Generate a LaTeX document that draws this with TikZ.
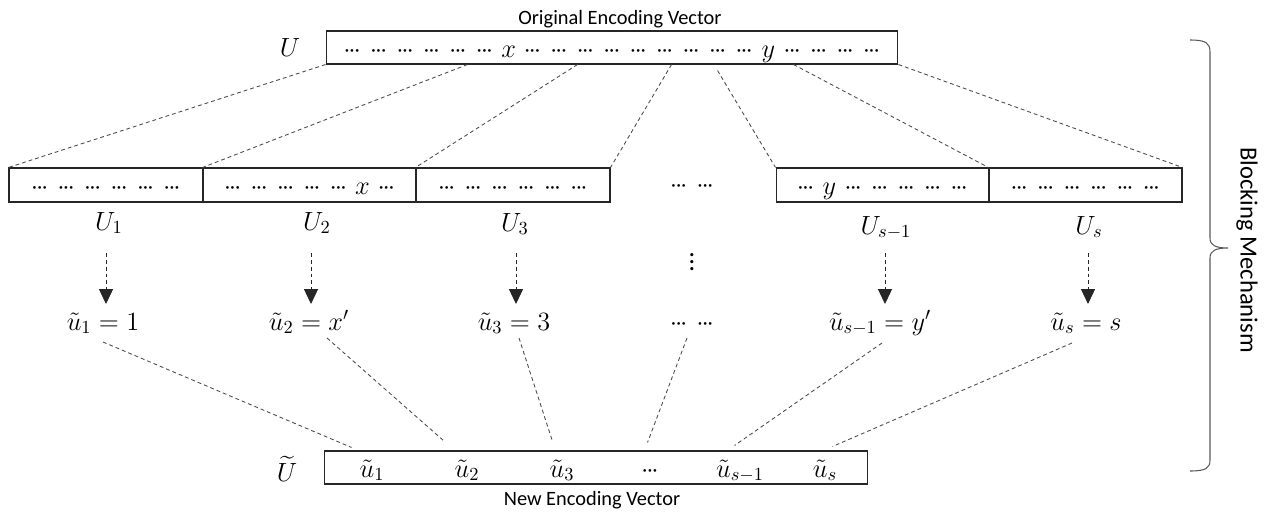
\RequirePackage{fix-cm}
\documentclass[tikz,border=0pt]{standalone}
\usepackage{amsmath}
\usepackage{fontspec}
\setmainfont{Carlito}
\usetikzlibrary{arrows.meta,calc}
\newcommand\tdots{{\cdotp}\mkern-1.5mu{\cdotp}\mkern-1.5mu{\cdotp}}
\newcommand\dg{\makebox[15.1pt]{$\tdots$}}
\newcommand\dx[1]{\makebox[12pt]{$#1$}}
\newcommand\mathfs{\fontsize{15}{18}\selectfont}
\begin{document}
\begin{tikzpicture}[x=0.02cm,y=-0.02cm,
  box/.style={draw=black!85, line width=0.6pt, inner sep=0pt, font=\mathfs},
  dl/.style={draw=black!70, dash pattern=on 2.2pt off 1.7pt, line width=0.5pt},
  arr/.style={draw=black!85, dash pattern=on 2.2pt off 1.7pt, line width=0.5pt,
    -{Triangle[width=8pt,length=8.5pt]}},
  lab/.style={inner sep=0pt, font=\mathfs},
  txt/.style={inner sep=0pt, font=\fontsize{11.6}{14}\selectfont},
  brc/.style={draw=black!65, line width=0.6pt}]
\useasboundingbox (0,0) rectangle (1272,514);

% top box
\node[box, minimum width=11.44cm, text height=0.52cm, text depth=0.14cm] (top) at (612,47.5)
  {\dg\dg\dg\dg\dg\dg\dx{x}\dg\dg\dg\dg\dg\dg\dg\dg\dg\dx{y}\dg\dg\dg\dg};
\node[txt] (orig) at (620,19) {Original Encoding Vector};
\node[lab] (Ulab) at (290,47) {$U$};

% middle boxes
\node[box, minimum width=3.88cm, text height=0.52cm, text depth=0.16cm] (b1) at (106,185)
  {\dg\dg\dg\dg\dg\dg};
\node[box, minimum width=4.26cm, text height=0.52cm, text depth=0.16cm] (b2) at (309.5,185)
  {\dg\dg\dg\dg\dg\dx{x}\dg};
\node[box, minimum width=3.88cm, text height=0.52cm, text depth=0.16cm] (b3) at (513,185)
  {\dg\dg\dg\dg\dg\dg};
\node[box, minimum width=4.26cm, text height=0.52cm, text depth=0.16cm] (b4) at (882.5,185)
  {\dg\dx{y}\dg\dg\dg\dg\dg};
\node[box, minimum width=3.86cm, text height=0.52cm, text depth=0.16cm] (b5) at (1085.5,185)
  {\dg\dg\dg\dg\dg\dg};
\node[lab] (md) at (692,187) {\dg\dg};

% block labels
\node[lab, anchor=base] (U1) at (109,230) {$U_1$};
\node[lab, anchor=base] (U2) at (317,230) {$U_2$};
\node[lab, anchor=base] (U3) at (515,231) {$U_3$};
\node[lab, anchor=base] (U4) at (886,234) {$U_{s-1}$};
\node[lab, anchor=base] (U5) at (1089,234) {$U_s$};
\node[lab] (vd) at (692,257) {$\vdots$};

% new values
\node[lab, anchor=base] (e1) at (103,330) {$\tilde{u}_1 = 1$};
\node[lab, anchor=base] (e2) at (309,330) {$\tilde{u}_2 = x'$};
\node[lab, anchor=base] (e3) at (514,330) {$\tilde{u}_3 = 3$};
\node[lab, anchor=base] (e4) at (692,330) {\dg\dg};
\node[lab, anchor=base] (e5) at (880,330) {$\tilde{u}_{s-1} = y'$};
\node[lab, anchor=base] (e6) at (1086,330) {$\tilde{u}_s = s$};

% bottom box
\node[box, minimum width=10.88cm, minimum height=0.66cm] (bot) at (596,467.5) {};
\node[lab] (Ut) at (287,469) {$\widetilde{U}$};
\node[lab, anchor=base] (bu1) at (372,477) {$\tilde{u}_1$};
\node[lab, anchor=base] (bu2) at (467,477) {$\tilde{u}_2$};
\node[lab, anchor=base] (bu3) at (562,477) {$\tilde{u}_3$};
\node[lab, anchor=base] (bu4) at (650,477) {$\tdots$};
\node[lab, anchor=base] (bu5) at (740,477) {$\tilde{u}_{s-1}$};
\node[lab, anchor=base] (bu6) at (825,477) {$\tilde{u}_s$};
\node[txt] (new) at (592,500) {New Encoding Vector};

% top -> blocks
\draw[dl] (top.south west) -- (b1.north west);
\draw[dl] ($(top.south west)+(142,0)$) -- (b2.north west);
\draw[dl] ($(top.south west)+(252,0)$) -- (b3.north west);
\draw[dl] ($(top.south west)+(346,0)$) -- (b3.north east);
\draw[dl] ($(top.south west)+(392,6)$) -- (b4.north west);
\draw[dl] ($(top.south west)+(468,0)$) -- (b5.north west);
\draw[dl] (top.south east) -- (b5.north east);

% arrows
\draw[arr] ($(U1.base)+(-3,23)$) -- ($(e1.base)+(3,-26)$);
\draw[arr] ($(U2.base)+(-6,23)$) -- ($(e2.base)+(2,-26)$);
\draw[arr] ($(U3.base)+(1,22)$) -- ($(e3.base)+(2,-26)$);
\draw[arr] ($(U4.base)+(-1,19)$) -- ($(e5.base)+(5,-26)$);
\draw[arr] ($(U5.base)+(-1,19)$) -- ($(e6.base)+(2,-26)$);

% values -> new vector
\draw[dl] ($(e1.base)+(0,12)$) -- ($(bot.north west)+(28,-3)$);
\draw[dl] ($(e2.base)+(18,8)$) -- ($(bot.north west)+(121,-9)$);
\draw[dl] ($(e3.base)+(5,8)$) -- ($(bot.north west)+(229,-9)$);
\draw[dl] ($(e4.base)+(-5,8)$) -- ($(bot.north west)+(324,-8)$);
\draw[dl] ($(e5.base)+(2,13)$) -- ($(bot.north west)+(411,-5)$);
\draw[dl] ($(e6.base)+(-14,13)$) -- ($(bot.north west)+(509,-4)$);

% brace
\draw[brc] (1190,40) .. controls (1206,40) and (1210,43) .. (1210,52) -- (1210,238)
  .. controls (1210,245) and (1215,248) .. (1228,248)
  .. controls (1215,248) and (1210,251) .. (1210,258) -- (1210,460)
  .. controls (1210,468) and (1206,471) .. (1190,471);
\node[txt, rotate=-90, font=\fontsize{14}{16}\selectfont] (blk) at (1247,250) {Blocking Mechanism};
\end{tikzpicture}
\end{document}
